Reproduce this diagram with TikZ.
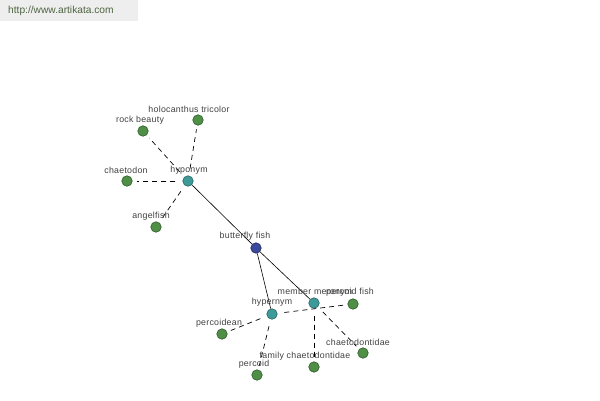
\documentclass[tikz,border=0pt]{standalone}
\usepackage{fontspec}
\setmainfont{Liberation Sans}
\newfontfamily\lblfont[LetterSpace=3]{Liberation Sans}
\begin{document}
\begin{tikzpicture}[x=1pt,y=-1pt,
  dot/.style={circle,inner sep=0pt,minimum size=10.5pt,line width=0.6pt},
  leaf/.style={dot,fill=leafc,draw=leafd},
  rel/.style={dot,fill=relc,draw=reld},
  root/.style={dot,fill=rootc,draw=rootd},
  lbl/.style={inner sep=0pt,text=lblc,font=\lblfont\fontsize{8.8}{9}\selectfont},
  solidedge/.style={line width=0.6pt,draw=black},
  dashedge/.style={line width=0.7pt,draw=black,dash pattern=on 5pt off 4pt,shorten <=7pt,shorten >=4pt}]
\definecolor{leafc}{HTML}{4F8F46}
\definecolor{leafd}{HTML}{2F5C2B}
\definecolor{relc}{HTML}{3E9A98}
\definecolor{reld}{HTML}{2A6464}
\definecolor{rootc}{HTML}{3B4A9C}
\definecolor{rootd}{HTML}{232B60}
\definecolor{lblc}{HTML}{404040}
\definecolor{urlbg}{HTML}{EEEEEE}
\definecolor{urlc}{HTML}{4E6440}
\useasboundingbox (0,0) rectangle (600,400);
\fill[urlbg] (0,0) rectangle (138,21);
\node[anchor=west,inner sep=0pt,text=urlc,font=\fontsize{10.2}{11}\selectfont] (url) at (8,11) {http://www.artikata.com};
% nodes
\node[root] (bf) at (256,248) {};
\node[rel] (hypo) at (188,181) {};
\node[rel] (hyper) at (272,314) {};
\node[rel] (mero) at (314,303) {};
\node[leaf] (rock) at (143,131) {};
\node[leaf] (holo) at (198,120) {};
\node[leaf] (chae) at (127,181) {};
\node[leaf] (angel) at (156,227) {};
\node[leaf] (pcdn) at (222,334) {};
\node[leaf] (pcd) at (257,375) {};
\node[leaf] (pcfish) at (353,304) {};
\node[leaf] (chtd) at (363,353) {};
\node[leaf] (fchtd) at (314,367) {};
% edges
\draw[solidedge] (hypo) -- (bf);
\draw[solidedge] (bf) -- (hyper);
\draw[solidedge] (bf) -- (mero);
\draw[dashedge] (hypo) -- (rock);
\draw[dashedge] (hypo) -- (holo);
\draw[dashedge] (hypo) -- (chae);
\draw[dashedge] (hypo) -- (angel);
\draw[dashedge] (hyper) -- (pcdn);
\draw[dashedge] (hyper) -- (pcd);
\draw[dashedge] (hyper) -- (pcfish);
\draw[dashedge] (mero) -- (chtd);
\draw[dashedge] (mero) -- (fchtd);
% labels
\node[lbl] (bf-l) at (245,236) {butterfly fish};
\node[lbl] (hypo-l) at (189,170) {hyponym};
\node[lbl] (hyper-l) at (272,302) {hypernym};
\node[lbl] (mero-l) at (315,292) {member meronym};
\node[lbl] (rock-l) at (140,120) {rock beauty};
\node[lbl] (holo-l) at (189,109) {holocanthus tricolor};
\node[lbl] (chae-l) at (126,170) {chaetodon};
\node[lbl] (angel-l) at (151,216) {angelfish};
\node[lbl] (pcdn-l) at (219,323) {percoidean};
\node[lbl] (pcd-l) at (254,364) {percoid};
\node[lbl] (pcfish-l) at (350,292) {percoid fish};
\node[lbl] (chtd-l) at (358,342) {chaetodontidae};
\node[lbl] (fchtd-l) at (305,356) {family chaetodontidae};
\end{tikzpicture}
\end{document}
